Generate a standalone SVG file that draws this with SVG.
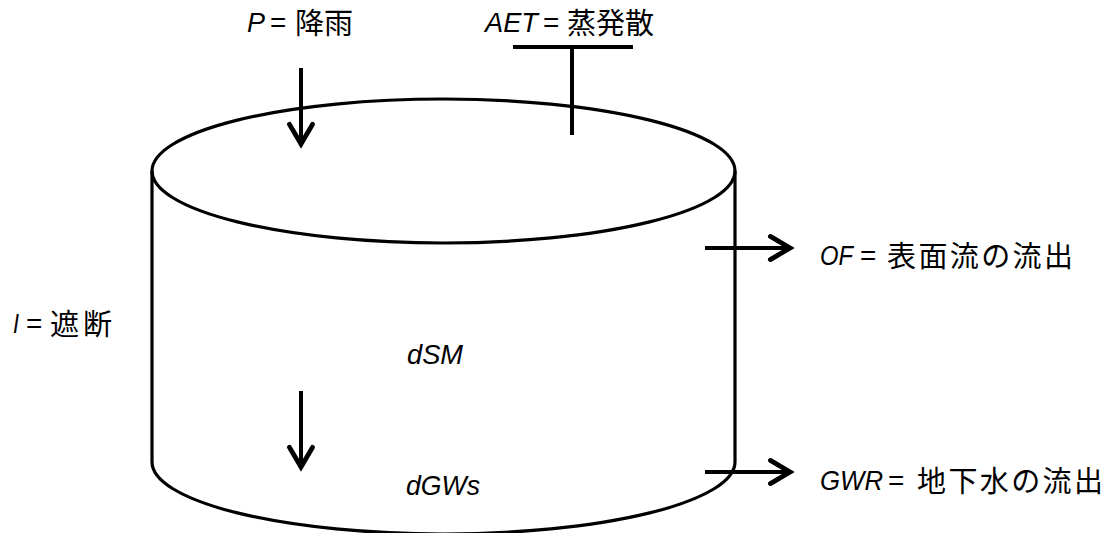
<svg xmlns="http://www.w3.org/2000/svg" width="1110" height="533" viewBox="0 0 1110 533">
<style>
.cyl{fill:none;stroke:#000;stroke-width:3.2}
.con{fill:none;stroke:#000;stroke-width:4;stroke-linecap:butt}
.lat{font-family:"Liberation Sans",Arial,sans-serif;font-style:italic;font-size:28px;fill:#000}
.eq{font-family:"Liberation Sans",Arial,sans-serif;font-size:28px;fill:#000}
.jp{font-family:"Noto Sans CJK JP","Noto Sans CJK SC",sans-serif;font-size:29px;fill:#000}
</style>
<defs>
<marker id="ah" markerUnits="userSpaceOnUse" orient="auto" markerWidth="30" markerHeight="30" viewBox="-22 -12 26 24" refX="0" refY="0" overflow="visible">
<path d="M-17,-10 L0,0 L-17,10" fill="none" stroke="#000" stroke-width="4.2" stroke-linecap="round" stroke-linejoin="miter"/>
</marker>
</defs>
<g id="cylinder">
<ellipse class="cyl" cx="443.5" cy="171" rx="291.5" ry="72"/>
<path class="cyl" d="M152,171 L152,462 A291.5,72 0 0 0 735,462 L735,171"/>
</g>
<g id="connectors">
<line class="con" x1="301" y1="68" x2="301" y2="144" marker-end="url(#ah)"/>
<line class="con" x1="301" y1="391" x2="301" y2="467" marker-end="url(#ah)"/>
<line class="con" x1="513" y1="47" x2="633" y2="47"/>
<line class="con" x1="572" y1="47" x2="572" y2="135"/>
<line class="con" x1="705" y1="248" x2="790" y2="248" marker-end="url(#ah)"/>
<line class="con" x1="705" y1="472" x2="790" y2="472" marker-end="url(#ah)"/>
</g>
<g id="label-P">
<text x="247" y="32"><tspan class="lat" textLength="18" lengthAdjust="spacingAndGlyphs">P</tspan><tspan class="eq" x="270">=</tspan><tspan class="jp" x="295" y="34">降雨</tspan></text>
</g>
<g id="label-AET">
<text x="485" y="32"><tspan class="lat" textLength="53" lengthAdjust="spacingAndGlyphs">AET</tspan><tspan class="eq" x="543">=</tspan><tspan class="jp" x="567" y="34">蒸発散</tspan></text>
</g>
<g id="label-OF">
<text x="820" y="265"><tspan class="lat" textLength="33" lengthAdjust="spacingAndGlyphs">OF</tspan><tspan class="eq" x="860">=</tspan><tspan class="jp" x="887" y="267" textLength="186" lengthAdjust="spacing">表面流の流出</tspan></text>
</g>
<g id="label-GWR">
<text x="820" y="490"><tspan class="lat" textLength="63" lengthAdjust="spacingAndGlyphs">GWR</tspan><tspan class="eq" x="888">=</tspan><tspan class="jp" x="917" y="492" textLength="186" lengthAdjust="spacing">地下水の流出</tspan></text>
</g>
<g id="label-I">
<text x="13" y="333"><tspan class="lat" textLength="6" lengthAdjust="spacingAndGlyphs">I</tspan><tspan class="eq" x="26">=</tspan><tspan class="jp" x="50" y="335" textLength="62" lengthAdjust="spacing">遮断</tspan></text>
</g>
<g id="label-dSM">
<text class="lat" x="407" y="364" textLength="56" lengthAdjust="spacingAndGlyphs">dSM</text>
</g>
<g id="label-dGWs">
<text class="lat" x="406" y="495" textLength="74" lengthAdjust="spacingAndGlyphs">dGWs</text>
</g>
</svg>
